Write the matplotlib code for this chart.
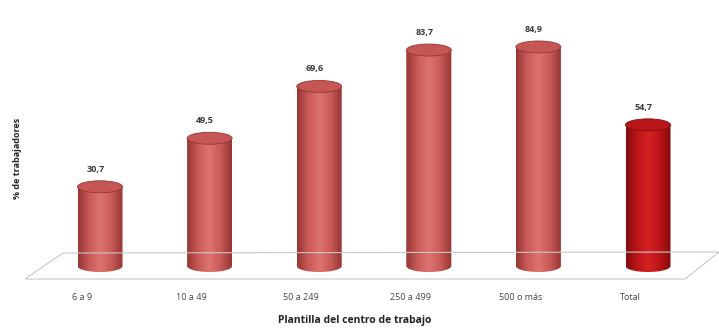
import matplotlib.pyplot as plt
import numpy as np
from matplotlib.patches import Ellipse, Polygon
from matplotlib.colors import LinearSegmentedColormap

categories = ['6 a 9', '10 a 49', '50 a 249', '250 a 499', '500 o más', 'Total']
values = [30.7, 49.5, 69.6, 83.7, 84.9, 54.7]
labels = ['30,7', '49,5', '69,6', '83,7', '84,9', '54,7']

plt.rcParams['font.family'] = ['Open Sans', 'DejaVu Sans']

W, H = 719, 328
fig = plt.figure(figsize=(W / 100, H / 100), dpi=100)
fig.patch.set_facecolor('white')

# pixel layout of the plotting area
px_left, px_right = 30, 700
px_zero, px_top = 266, 20
x0, step = 100, 109.6
scale = 2.58  # px per unit
ybot = -6

xl = (px_left - x0) / step
xr = (px_right - x0) / step
ytop = (px_zero - px_top) / scale
px_bot = px_zero - ybot * scale

# floor (drawn in figure pixels, behind axes)
floor = Polygon([(25 / W, 1 - 279 / H), (685 / W, 1 - 279 / H),
                 (719 / W, 1 - 252 / H), (63 / W, 1 - 253 / H)],
                closed=True, fill=False, edgecolor='#c8c8c8', lw=0.8,
                transform=fig.transFigure)
fig.patches.append(floor)

ax = fig.add_axes([px_left / W, 1 - px_bot / H, (px_right - px_left) / W, (px_bot - px_top) / H])
ax.set_xlim(xl, xr)
ax.set_ylim(ybot, ytop)
ax.axis('off')


def cylinder(ax, bar, light, mid, dark, top_col):
    x, w, h = bar.get_x(), bar.get_width(), bar.get_height()
    eh = 12 / scale
    cmap = LinearSegmentedColormap.from_list('c', [dark, mid, light, mid, dark], N=256)
    grad = np.linspace(0, 1, 200).reshape(1, -1)
    img = ax.imshow(grad, extent=[x, x + w, -eh / 2, h], cmap=cmap, aspect='auto',
                    origin='lower', zorder=2)
    # clip with body + bottom half ellipse
    t = np.linspace(np.pi, 2 * np.pi, 60)
    bx = x + w / 2 + w / 2 * np.cos(t)
    by = eh / 2 * np.sin(t)
    clip = Polygon(np.column_stack([np.r_[x, bx, x + w, x + w, x],
                                    np.r_[h, by, 0, h, h]]),
                   closed=True, transform=ax.transData, facecolor='none', edgecolor='none')
    ax.add_patch(clip)
    img.set_clip_path(clip)
    ax.add_patch(Ellipse((x + w / 2, h), w, eh, facecolor=top_col,
                         edgecolor=dark, lw=0.6, zorder=3))


bars = ax.bar(range(len(values)), values, width=45 / step, color='none', zorder=1)
for i, b in enumerate(bars):
    if categories[i] == 'Total':
        cylinder(ax, b, '#d42224', '#bc1518', '#840a0c', '#b8161a')
    else:
        cylinder(ax, b, '#de7370', '#c95a57', '#963634', '#c65653')
    ax.text(i - 0.04, values[i] + 13 / scale, labels[i], ha='center', va='bottom',
            fontsize=6.5, fontweight='bold', color='#3a3a3a')

for i, c in enumerate(categories):
    fig.text((x0 + i * step - 18) / W, 1 - 298 / H, c, ha='center', va='center',
             fontsize=6.5, color='#444444')

fig.text(355 / W, 1 - 321 / H, 'Plantilla del centro de trabajo', ha='center', va='center',
         fontsize=7.5, fontweight='bold', color='#222222')
fig.text(18 / W, 1 - 158 / H, '% de trabajadores', ha='center', va='center',
         rotation=90, fontsize=6.5, fontweight='bold', color='#222222')

fig.savefig('out.png', dpi=100, facecolor='white')
